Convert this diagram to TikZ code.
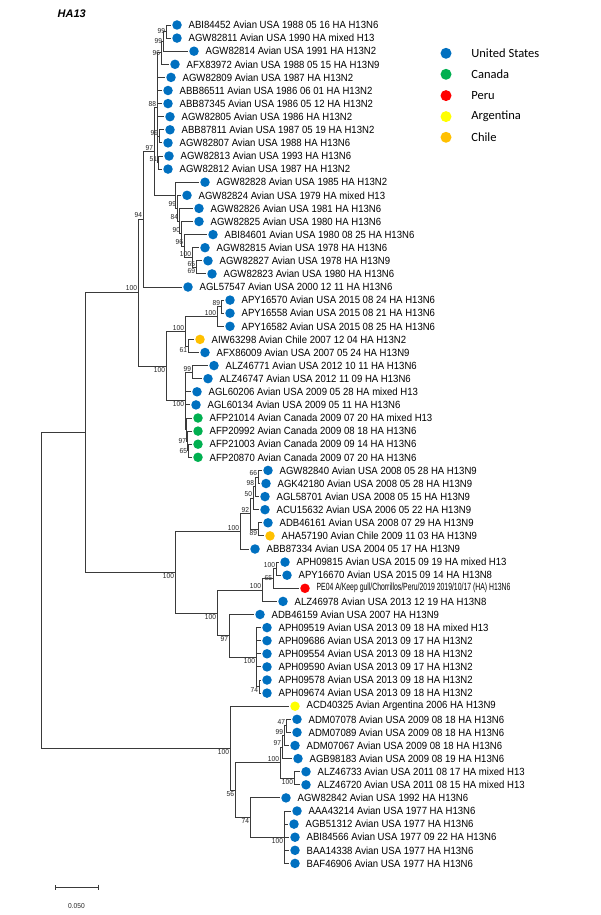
\documentclass[tikz,border=0pt]{standalone}
\usepackage{fontspec}
\setmainfont{Liberation Sans}[FakeStretch=0.92]
\newfontfamily\pefont{Liberation Sans}[FakeStretch=0.66]
\newfontfamily\legfont{Carlito}
\newfontfamily\headfont{Liberation Sans}
\usetikzlibrary{arrows.meta}
\definecolor{usa}{HTML}{0070C0}
\definecolor{canada}{HTML}{00B050}
\definecolor{peru}{HTML}{FF0000}
\definecolor{argentina}{HTML}{FFFF00}
\definecolor{chile}{HTML}{FFC000}
\definecolor{branch}{HTML}{3A3A3A}

\begin{document}
\begin{tikzpicture}[x=1pt, y=-1pt,
    leaf/.style={circle, fill=#1, minimum size=9.5pt, inner sep=0pt, outer sep=1.5pt},
    lab/.style={font=\fontsize{10.4}{12}\selectfont, inner sep=0pt, label distance=5.2pt},
    bs/.style={font=\fontsize{7.2}{8}\selectfont, inner sep=0.8pt, text=black!85},
    br/.style={draw=branch, line width=0.9pt, to path={|- (\tikztotarget)}},
    key/.style={circle, fill=#1, minimum size=11pt, inner sep=0pt},
    keylab/.style={font=\legfont\fontsize{12.5}{14}\selectfont, inner sep=0pt, label distance=19.5pt}
]
    \path[use as bounding box, fill=white] (0,0) rectangle (600,915);
    \node[font=\headfont\fontsize{11}{13}\selectfont\bfseries\itshape, anchor=west, inner sep=0pt] (title) at (57.5,13.3) {HA13};

    % leaves
    \node[leaf=usa, label={[lab]right:ABI84452 Avian USA 1988 05 16 HA H13N6}] (l1) at (177,25.0) {};
    \node[leaf=usa, label={[lab]right:AGW82811 Avian USA 1990 HA mixed H13}] (l2) at (177,38.1) {};
    \node[leaf=usa, label={[lab]right:AGW82814 Avian USA 1991 HA H13N2}] (l3) at (194,51.2) {};
    \node[leaf=usa, label={[lab]right:AFX83972 Avian USA 1988 05 15 HA H13N9}] (l4) at (175,64.3) {};
    \node[leaf=usa, label={[lab]right:AGW82809 Avian USA 1987 HA H13N2}] (l5) at (171,77.4) {};
    \node[leaf=usa, label={[lab]right:ABB86511 Avian USA 1986 06 01 HA H13N2}] (l6) at (168,90.5) {};
    \node[leaf=usa, label={[lab]right:ABB87345 Avian USA 1986 05 12 HA H13N2}] (l7) at (168,103.6) {};
    \node[leaf=usa, label={[lab]right:AGW82805 Avian USA 1986 HA H13N2}] (l8) at (170,116.7) {};
    \node[leaf=usa, label={[lab]right:ABB87811 Avian USA 1987 05 19 HA H13N2}] (l9) at (170,129.8) {};
    \node[leaf=usa, label={[lab]right:AGW82807 Avian USA 1988 HA H13N6}] (l10) at (168,142.9) {};
    \node[leaf=usa, label={[lab]right:AGW82813 Avian USA 1993 HA H13N6}] (l11) at (169,156.0) {};
    \node[leaf=usa, label={[lab]right:AGW82812 Avian USA 1987 HA H13N2}] (l12) at (168,169.1) {};
    \node[leaf=usa, label={[lab]right:AGW82828 Avian USA 1985 HA H13N2}] (l13) at (205,182.2) {};
    \node[leaf=usa, label={[lab]right:AGW82824 Avian USA 1979 HA mixed H13}] (l14) at (187,195.3) {};
    \node[leaf=usa, label={[lab]right:AGW82826 Avian USA 1981 HA H13N6}] (l15) at (199,208.4) {};
    \node[leaf=usa, label={[lab]right:AGW82825 Avian USA 1980 HA H13N6}] (l16) at (199,221.5) {};
    \node[leaf=usa, label={[lab]right:ABI84601 Avian USA 1980 08 25 HA H13N6}] (l17) at (213,234.6) {};
    \node[leaf=usa, label={[lab]right:AGW82815 Avian USA 1978 HA H13N6}] (l18) at (205,247.7) {};
    \node[leaf=usa, label={[lab]right:AGW82827 Avian USA 1978 HA H13N9}] (l19) at (208,260.8) {};
    \node[leaf=usa, label={[lab]right:AGW82823 Avian USA 1980 HA H13N6}] (l20) at (212,273.9) {};
    \node[leaf=usa, label={[lab]right:AGL57547 Avian USA 2000 12 11 HA H13N6}] (l21) at (188,287.0) {};
    \node[leaf=usa, label={[lab]right:APY16570 Avian USA 2015 08 24 HA H13N6}] (l22) at (230,300.1) {};
    \node[leaf=usa, label={[lab]right:APY16558 Avian USA 2015 08 21 HA H13N6}] (l23) at (230,313.2) {};
    \node[leaf=usa, label={[lab]right:APY16582 Avian USA 2015 08 25 HA H13N6}] (l24) at (230,326.3) {};
    \node[leaf=chile, label={[lab]right:AIW63298 Avian Chile 2007 12 04 HA H13N2}] (l25) at (200,339.4) {};
    \node[leaf=usa, label={[lab]right:AFX86009 Avian USA 2007 05 24 HA H13N9}] (l26) at (205,352.5) {};
    \node[leaf=usa, label={[lab]right:ALZ46771 Avian USA 2012 10 11 HA H13N6}] (l27) at (214,365.6) {};
    \node[leaf=usa, label={[lab]right:ALZ46747 Avian USA 2012 11 09 HA H13N6}] (l28) at (208,378.7) {};
    \node[leaf=usa, label={[lab]right:AGL60206 Avian USA 2009 05 28 HA mixed H13}] (l29) at (197,391.8) {};
    \node[leaf=usa, label={[lab]right:AGL60134 Avian USA 2009 05 11 HA H13N6}] (l30) at (196,404.9) {};
    \node[leaf=canada, label={[lab]right:AFP21014 Avian Canada 2009 07 20 HA mixed H13}] (l31) at (198,418.0) {};
    \node[leaf=canada, label={[lab]right:AFP20992 Avian Canada 2009 08 18 HA H13N6}] (l32) at (198,431.1) {};
    \node[leaf=canada, label={[lab]right:AFP21003 Avian Canada 2009 09 14 HA H13N6}] (l33) at (198,444.2) {};
    \node[leaf=canada, label={[lab]right:AFP20870 Avian Canada 2009 07 20 HA H13N6}] (l34) at (198,457.3) {};
    \node[leaf=usa, label={[lab]right:AGW82840 Avian USA 2008 05 28 HA H13N9}] (l35) at (268,470.4) {};
    \node[leaf=usa, label={[lab]right:AGK42180 Avian USA 2008 05 28 HA H13N9}] (l36) at (266,483.5) {};
    \node[leaf=usa, label={[lab]right:AGL58701 Avian USA 2008 05 15 HA H13N9}] (l37) at (265,496.6) {};
    \node[leaf=usa, label={[lab]right:ACU15632 Avian USA 2006 05 22 HA H13N9}] (l38) at (265,509.7) {};
    \node[leaf=usa, label={[lab]right:ADB46161 Avian USA 2008 07 29 HA H13N9}] (l39) at (268,522.8) {};
    \node[leaf=chile, label={[lab]right:AHA57190 Avian Chile 2009 11 03 HA H13N9}] (l40) at (270,535.9) {};
    \node[leaf=usa, label={[lab]right:ABB87334 Avian USA 2004 05 17 HA H13N9}] (l41) at (255,549.0) {};
    \node[leaf=usa, label={[lab]right:APH09815 Avian USA 2015 09 19 HA mixed H13}] (l42) at (285,562.1) {};
    \node[leaf=usa, label={[lab]right:APY16670 Avian USA 2015 09 14 HA H13N8}] (l43) at (287,575.2) {};
    \node[leaf=peru, label={[lab, font=\pefont\fontsize{10.4}{12}\selectfont]right:PE04 A/Keep gull/Chorrillos/Peru/2019 2019/10/17 (HA) H13N6}] (l44) at (305,588.3) {};
    \node[leaf=usa, label={[lab]right:ALZ46978 Avian USA 2013 12 19 HA H13N8}] (l45) at (283,601.4) {};
    \node[leaf=usa, label={[lab]right:ADB46159 Avian USA 2007 HA H13N9}] (l46) at (260,614.5) {};
    \node[leaf=usa, label={[lab]right:APH09519 Avian USA 2013 09 18 HA mixed H13}] (l47) at (267,627.6) {};
    \node[leaf=usa, label={[lab]right:APH09686 Avian USA 2013 09 17 HA H13N2}] (l48) at (267,640.7) {};
    \node[leaf=usa, label={[lab]right:APH09554 Avian USA 2013 09 18 HA H13N2}] (l49) at (267,653.8) {};
    \node[leaf=usa, label={[lab]right:APH09590 Avian USA 2013 09 17 HA H13N2}] (l50) at (267,666.9) {};
    \node[leaf=usa, label={[lab]right:APH09578 Avian USA 2013 09 18 HA H13N2}] (l51) at (267,680.0) {};
    \node[leaf=usa, label={[lab]right:APH09674 Avian USA 2013 09 18 HA H13N2}] (l52) at (267,693.1) {};
    \node[leaf=argentina, label={[lab]right:ACD40325 Avian Argentina 2006 HA H13N9}] (l53) at (295,706.2) {};
    \node[leaf=usa, label={[lab]right:ADM07078 Avian USA 2009 08 18 HA H13N6}] (l54) at (297,719.3) {};
    \node[leaf=usa, label={[lab]right:ADM07089 Avian USA 2009 08 18 HA H13N6}] (l55) at (297,732.4) {};
    \node[leaf=usa, label={[lab]right:ADM07067 Avian USA 2009 08 18 HA H13N6}] (l56) at (295,745.5) {};
    \node[leaf=usa, label={[lab]right:AGB98183 Avian USA 2009 08 19 HA H13N6}] (l57) at (298,758.6) {};
    \node[leaf=usa, label={[lab]right:ALZ46733 Avian USA 2011 08 17 HA mixed H13}] (l58) at (306,771.7) {};
    \node[leaf=usa, label={[lab]right:ALZ46720 Avian USA 2011 08 15 HA mixed H13}] (l59) at (306,784.8) {};
    \node[leaf=usa, label={[lab]right:AGW82842 Avian USA 1992 HA H13N6}] (l60) at (286,797.9) {};
    \node[leaf=usa, label={[lab]right:AAA43214 Avian USA 1977 HA H13N6}] (l61) at (297,811.0) {};
    \node[leaf=usa, label={[lab]right:AGB51312 Avian USA 1977 HA H13N6}] (l62) at (294,824.1) {};
    \node[leaf=usa, label={[lab]right:ABI84566 Avian USA 1977 09 22 HA H13N6}] (l63) at (295,837.2) {};
    \node[leaf=usa, label={[lab]right:BAA14338 Avian USA 1977 HA H13N6}] (l64) at (295,850.3) {};
    \node[leaf=usa, label={[lab]right:BAF46906 Avian USA 1977 HA H13N6}] (l65) at (295,863.4) {};

    % inner nodes with bootstrap values
    \coordinate (root) at (41.5,590);
    \coordinate (nX) at (85,432.5);
    \coordinate[label={[bs]above left:100}] (nX100) at (138,292);
    \coordinate[label={[bs]above left:94}] (n94) at (143,219);
    \coordinate[label={[bs]above left:97}] (nT) at (154,151.3);
    \coordinate[label={[bs]above left:88}] (nA) at (157,107.7);
    \coordinate[label={[bs]left:96}] (a3) at (161,52.8);
    \coordinate[label={[bs]left:99}] (a2) at (163,41.4);
    \coordinate[label={[bs]left:99}] (a1) at (166,31.5);
    \coordinate[label={[bs]above left:99}] (a910) at (159,136.3);
    \coordinate[label={[bs]above left:51}] (aY) at (158,162.5);
    \coordinate (nB) at (175,195);
    \coordinate[label={[bs]above left:99}] (b2) at (177,208);
    \coordinate[label={[bs]above left:84}] (b3) at (179,221);
    \coordinate[label={[bs]above left:90}] (b4) at (181,233.8);
    \coordinate[label={[bs]above left:96}] (b5) at (184,246);
    \coordinate[label={[bs]above left:100}] (b6) at (192,257.5);
    \coordinate[label={[bs]above left:65}, label={[bs]below left:69}] (b7) at (196,267.4);
    \coordinate[label={[bs]below left:100}] (nY) at (166,366);
    \coordinate[label={[bs]above left:100}] (y1) at (185,331.2);
    \coordinate[label={[bs]above left:100}] (ap) at (217,316.5);
    \coordinate[label={[bs]above left:89}] (ap1) at (221,306.6);
    \coordinate[label={[bs]below left:61}] (af) at (188,346);
    \coordinate[label={[bs]below left:100}] (y2) at (185,400.8);
    \coordinate[label={[bs]above left:99}] (z1) at (192,372.2);
    \coordinate (zc) at (186,429.5);
    \coordinate[label={[bs]left:97}] (c2) at (187,441);
    \coordinate[label={[bs]left:65}] (c1) at (188,450.7);
    \coordinate[label={[bs]below left:100}] (nM) at (175,572);
    \coordinate[label={[bs]above left:100}] (p1) at (240,531.4);
    \coordinate[label={[bs]above left:92}] (p2) at (250,513.8);
    \coordinate[label={[bs]above left:50}] (q3) at (253,498);
    \coordinate[label={[bs]above left:98}] (q2) at (255,486.8);
    \coordinate[label={[bs]above left:66}] (q1) at (258,477);
    \coordinate[label={[bs]below left:89}] (p40) at (258,529.4);
    \coordinate[label={[bs]below left:100}] (q) at (217,613);
    \coordinate[label={[bs]above left:100}] (g1) at (262,590);
    \coordinate[label={[bs]left:65}] (r2) at (273,578.5);
    \coordinate[label={[bs]above left:100}] (r1) at (276,568.6);
    \coordinate[label={[bs]below left:97}] (g2) at (229,635.8);
    \coordinate[label={[bs]below left:100}] (gh) at (256,657);
    \coordinate[label={[bs]below left:74}] (gk) at (259,686.5);
    \coordinate[label={[bs]below left:100}] (nR) at (230,748);
    \coordinate[label={[bs]below left:56}] (nR2) at (235,790);
    \coordinate[label={[bs]above left:100}] (s) at (280,762.6);
    \coordinate[label={[bs]above left:97}] (t3) at (282,747);
    \coordinate[label={[bs]above left:99}] (t2) at (284,735.7);
    \coordinate[label={[bs]above left:47}] (t1) at (286,725.9);
    \coordinate[label={[bs]below left:100}] (w) at (294,778.3);
    \coordinate[label={[bs]below left:74}] (u) at (250,817.5);
    \coordinate[label={[bs]below left:100}] (u1) at (284,837.2);

    % branches
    \path (root) edge[br] (nX) edge[br] (nR);
    \path (nX) edge[br] (nX100) edge[br] (nM);
    \path (nX100) edge[br] (n94) edge[br] (nY);
    \path (n94) edge[br] (nT) edge[br] (l21);
    \path (nT) edge[br] (nA) edge[br] (nB);
    \path (nA) edge[br] (a3) edge[br] (l5) edge[br] (l6) edge[br] (l7) edge[br] (l8) edge[br] (a910) edge[br] (aY);
    \path (a3) edge[br] (a2) edge[br] (l4);
    \path (a2) edge[br] (a1) edge[br] (l3);
    \path (a1) edge[br] (l1) edge[br] (l2);
    \path (a910) edge[br] (l9) edge[br] (l10);
    \path (aY) edge[br] (l11) edge[br] (l12);
    \path (nB) edge[br] (l13) edge[br] (b2);
    \path (b2) edge[br] (l14) edge[br] (b3);
    \path (b3) edge[br] (l15) edge[br] (b4);
    \path (b4) edge[br] (l16) edge[br] (b5);
    \path (b5) edge[br] (l17) edge[br] (b6);
    \path (b6) edge[br] (l18) edge[br] (b7);
    \path (b7) edge[br] (l19) edge[br] (l20);
    \path (nY) edge[br] (y1) edge[br] (y2);
    \path (y1) edge[br] (ap) edge[br] (af);
    \path (ap) edge[br] (ap1) edge[br] (l24);
    \path (ap1) edge[br] (l22) edge[br] (l23);
    \path (af) edge[br] (l25) edge[br] (l26);
    \path (y2) edge[br] (z1) edge[br] (l29) edge[br] (l30) edge[br] (zc);
    \path (z1) edge[br] (l27) edge[br] (l28);
    \path (zc) edge[br] (l31) edge[br] (c2);
    \path (c2) edge[br] (l32) edge[br] (c1);
    \path (c1) edge[br] (l33) edge[br] (l34);
    \path (nM) edge[br] (p1) edge[br] (q);
    \path (p1) edge[br] (p2) edge[br] (l41);
    \path (p2) edge[br] (q3) edge[br] (p40);
    \path (q3) edge[br] (q2) edge[br] (l38);
    \path (q2) edge[br] (q1) edge[br] (l37);
    \path (q1) edge[br] (l35) edge[br] (l36);
    \path (p40) edge[br] (l39) edge[br] (l40);
    \path (q) edge[br] (g1) edge[br] (g2);
    \path (g1) edge[br] (r2) edge[br] (l45);
    \path (r2) edge[br] (r1) edge[br] (l44);
    \path (r1) edge[br] (l42) edge[br] (l43);
    \path (g2) edge[br] (l46) edge[br] (gh);
    \path (gh) edge[br] (l47) edge[br] (l48) edge[br] (l49) edge[br] (l50) edge[br] (gk);
    \path (gk) edge[br] (l51) edge[br] (l52);
    \path (nR) edge[br] (l53) edge[br] (nR2);
    \path (nR2) edge[br] (s) edge[br] (u);
    \path (s) edge[br] (t3) edge[br] (w);
    \path (t3) edge[br] (t2) edge[br] (l57);
    \path (t2) edge[br] (t1) edge[br] (l56);
    \path (t1) edge[br] (l54) edge[br] (l55);
    \path (w) edge[br] (l58) edge[br] (l59);
    \path (u) edge[br] (l60) edge[br] (u1);
    \path (u1) edge[br] (l61) edge[br] (l62) edge[br] (l63) edge[br] (l64) edge[br] (l65);

    % legend
    \node[key=usa, label={[keylab]right:United States}] (kusa) at (446,53.3) {};
    \node[key=canada, label={[keylab]right:Canada}] (kcan) at (446,74.3) {};
    \node[key=peru, label={[keylab]right:Peru}] (kper) at (446,95.6) {};
    \node[key=argentina, label={[keylab]right:Argentina}] (karg) at (446,116.6) {};
    \node[key=chile, label={[keylab]right:Chile}] (kchi) at (446,137.3) {};

    % scale bar
    \coordinate (sb1) at (55,887);
    \coordinate (sb2) at (99,887);
    \draw[branch, line width=0.8pt, {Bar[width=5pt]}-{Bar[width=5pt]}] (sb1) -- (sb2);
    \node[bs] (sblab) at (76.5,906) {0.050};
\end{tikzpicture}
\end{document}
